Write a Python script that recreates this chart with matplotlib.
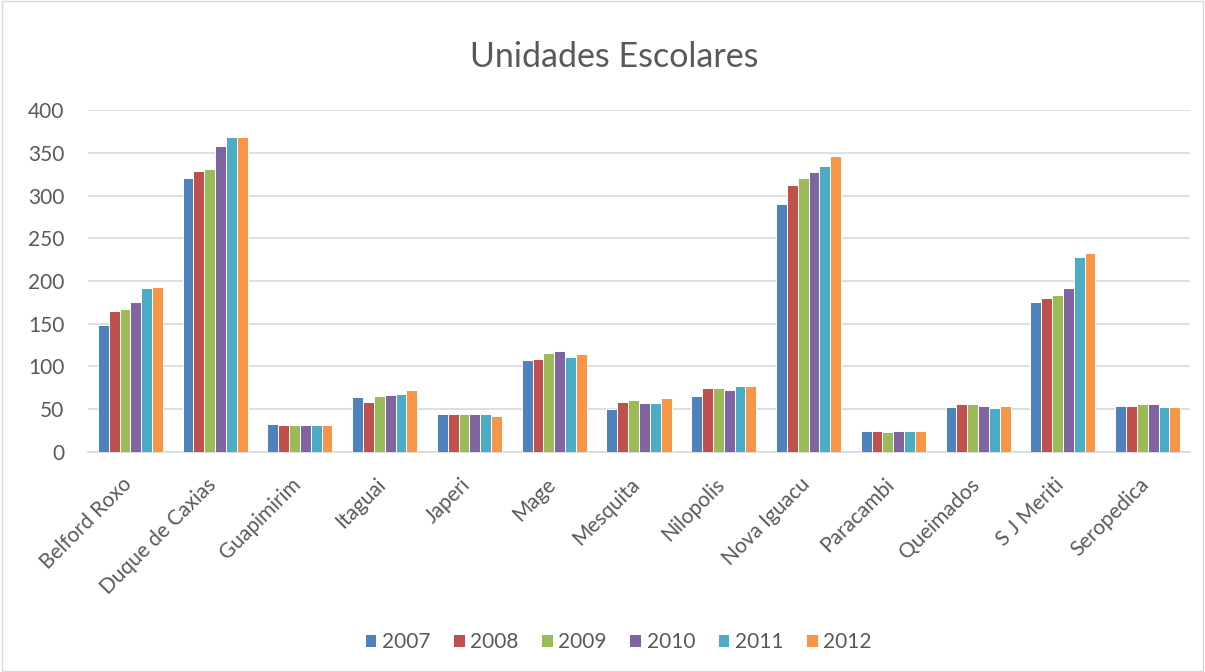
import matplotlib
matplotlib.use("Agg")
import matplotlib.pyplot as plt
import matplotlib.transforms as mtransforms
import numpy as np
from matplotlib.patches import Rectangle

plt.rcParams['font.family'] = ['Lato', 'DejaVu Sans']

categories = ["Belford Roxo", "Duque de Caxias", "Guapimirim", "Itaguai", "Japeri", "Mage",
              "Mesquita", "Nilopolis", "Nova Iguacu", "Paracambi", "Queimados", "S J Meriti",
              "Seropedica"]
years = ["2007", "2008", "2009", "2010", "2011", "2012"]
v2007 = [148, 320, 33, 64, 45, 108, 50, 66, 290, 25, 53, 175, 54]
v2008 = [165, 329, 32, 59, 44, 109, 59, 75, 312, 25, 56, 180, 54]
v2009 = [167, 331, 31, 66, 44, 116, 61, 75, 321, 23, 56, 184, 56]
v2010 = [176, 358, 31, 67, 45, 118, 57, 73, 327, 25, 54, 192, 56]
v2011 = [192, 369, 31, 68, 44, 111, 57, 77, 334, 25, 52, 228, 53]
v2012 = [193, 369, 31, 72, 42, 115, 63, 77, 346, 24, 54, 233, 53]
series = [v2007, v2008, v2009, v2010, v2011, v2012]
colors = ["#4F81BD", "#C0504D", "#9BBB59", "#8064A2", "#4BACC6", "#F79646"]

fig = plt.figure(figsize=(12.05, 6.72), dpi=100)
ax = fig.add_axes([0.073, 0.3274, 0.9146, 0.5089])

x = np.arange(len(categories))
w = 0.128
for i, (vals, c, yr) in enumerate(zip(series, colors, years)):
    ax.bar(x + (i - 2.5) * w, vals, width=w, color=c, edgecolor='white', linewidth=0.7,
           label=yr, zorder=3)

ax.set_xlim(-0.5, len(categories) - 0.5)
ax.set_ylim(0, 400)
ax.set_yticks(range(0, 401, 50))
ax.grid(axis='y', color='#D9D9D9', linewidth=1.2, zorder=0)
for s in ['top', 'right', 'left']:
    ax.spines[s].set_visible(False)
ax.spines['bottom'].set_color('#D9D9D9')
ax.spines['bottom'].set_linewidth(1.2)
ax.tick_params(axis='both', length=0, labelsize=15, colors='#595959')
ax.tick_params(axis='y', pad=17)
ax.tick_params(axis='x', pad=6)
ax.set_xticks(x)
ax.set_xticklabels(categories, rotation=45, ha='right', rotation_mode='anchor')
offset = mtransforms.ScaledTranslation(-9 / 100, -14 / 100, fig.dpi_scale_trans)
for lbl in ax.get_xticklabels():
    lbl.set_transform(lbl.get_transform() + offset)

fig.text(0.510, 0.915, "Unidades Escolares", ha='center', va='center', fontsize=24.5, color='#595959')

handles, labels = ax.get_legend_handles_labels()
fig.legend(handles, labels, loc='center', bbox_to_anchor=(0.513, 0.045), ncol=6, frameon=False,
           fontsize=15, handlelength=0.56, handleheight=0.56, handletextpad=0.27,
           columnspacing=1.08, labelcolor='#595959')

fig.patches.append(Rectangle((0.002, 0.002), 0.996, 0.996, transform=fig.transFigure,
                             fill=False, edgecolor='#D9D9D9', linewidth=1))

fig.savefig("out.png", dpi=100, facecolor='white')
